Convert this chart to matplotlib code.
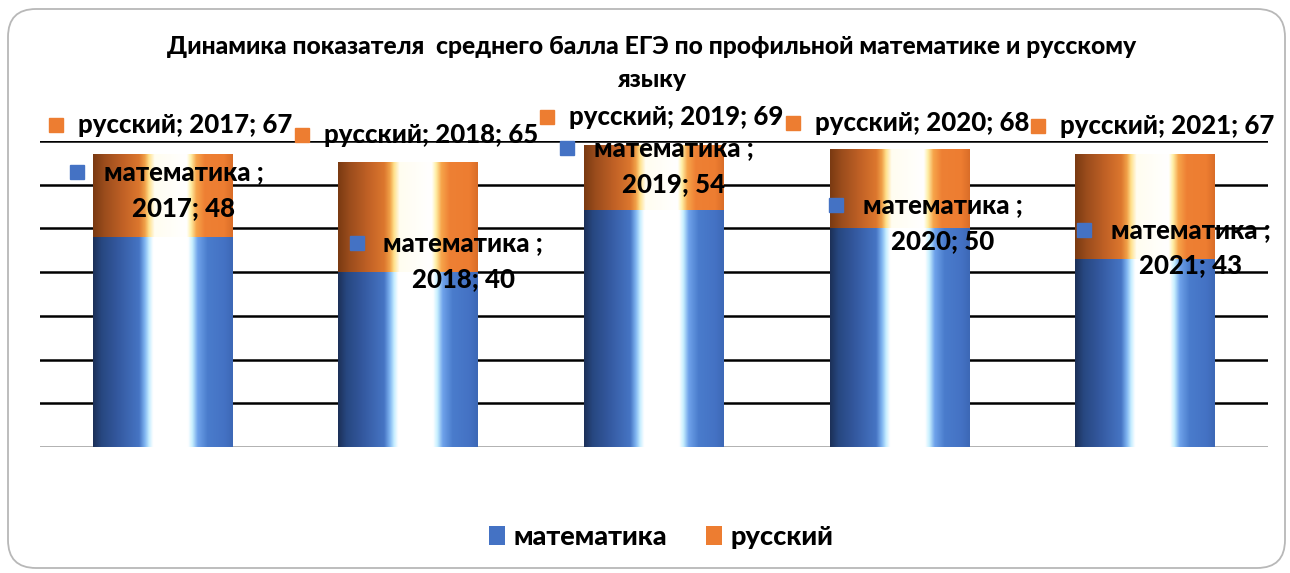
import matplotlib
matplotlib.use("Agg")
import matplotlib.pyplot as plt
import numpy as np
from matplotlib.colors import LinearSegmentedColormap
from matplotlib.patches import FancyBboxPatch, Patch

# ---- data ----
years = ["2017", "2018", "2019", "2020", "2021"]
math_scores = [48, 40, 54, 50, 43]
russian_scores = [67, 65, 69, 68, 67]
series_names = ["математика", "русский"]
title = "Динамика показателя  среднего балла ЕГЭ по профильной математике и русскому\nязыку"

# ---- layout (label placement) ----
rus_label_y = [73.7, 71.4, 75.5, 74.1, 73.5]
math_label_y = [62.9, 46.7, 68.4, 55.4, 49.7]
math_label_dx = [0.085, 0.224, 0.08, 0.175, 0.185]

FONT = "Lato"
WEIGHT = 900
plt.rcParams['font.family'] = [FONT, 'DejaVu Sans']

W, H = 1290, 573
fig = plt.figure(figsize=(W / 100, H / 100), dpi=100)
fig.patch.set_facecolor("white")

# background axes in pixel units for the rounded border
bg = fig.add_axes([0, 0, 1, 1], zorder=-5)
bg.set_xlim(0, W)
bg.set_ylim(H, 0)
bg.axis("off")
bg.add_patch(FancyBboxPatch((8, 9), 1277, 559,
                            boxstyle="round,pad=0,rounding_size=28",
                            facecolor="white", edgecolor="#b8b8b8", linewidth=1.3))

ax = fig.add_axes([40 / W, 1 - 447 / H, 1228 / W, 306 / H])
ax.set_facecolor("none")
for s in ax.spines.values():
    s.set_visible(False)
ax.set_xticks([])
ax.set_yticks([])

# gridlines
for v in range(10, 71, 10):
    ax.axhline(v, color="black", linewidth=1.8, zorder=1)
ax.axhline(0, color="#9a9a9a", linewidth=1.8, zorder=1)

blue_cmap = LinearSegmentedColormap.from_list("blue", [
    (0.0, "#1c3058"), (0.06, "#274780"), (0.18, "#3459a0"), (0.33, "#4675c4"),
    (0.37, "#7fb4f0"), (0.40, "#c4ecff"), (0.43, "#ffffff"), (0.68, "#ffffff"),
    (0.71, "#c8f0ff"), (0.75, "#6ea2ea"), (0.82, "#4a7ccc"), (0.94, "#4472c4"),
    (1.0, "#3d68b6")])
orange_cmap = LinearSegmentedColormap.from_list("orange", [
    (0.0, "#7a3a12"), (0.08, "#9a4c1c"), (0.22, "#c26226"), (0.33, "#dc772e"),
    (0.37, "#f0a048"), (0.40, "#ffe08a"), (0.44, "#fffdf0"), (0.67, "#ffffff"),
    (0.70, "#fff0a8"), (0.74, "#f6a44a"), (0.80, "#ee8034"), (0.94, "#ed7d31"),
    (1.0, "#da6d28")])

grad = np.linspace(0, 1, 256).reshape(1, -1)
bw = 0.57
for i in range(len(years)):
    x0, x1 = i - bw / 2, i + bw / 2
    ax.imshow(grad, cmap=orange_cmap, extent=[x0, x1, 0, russian_scores[i]],
              aspect="auto", zorder=2, interpolation="bilinear")
    ax.imshow(grad, cmap=blue_cmap, extent=[x0, x1, 0, math_scores[i]],
              aspect="auto", zorder=3, interpolation="bilinear")
ax.set_xlim(-0.5, len(years) - 0.5)
ax.set_ylim(0, 70)

BLUE = "#4472c4"
ORANGE = "#ed7d31"
fs = 18.5
for i, yr in enumerate(years):
    # russian label
    ax.plot(i - 0.435, rus_label_y[i], marker="s", markersize=10, color=ORANGE,
            clip_on=False, zorder=5, linestyle="none")
    ax.text(i - 0.345, rus_label_y[i], f"{series_names[1]}; {yr}; {russian_scores[i]}",
            ha="left", va="center", fontsize=fs, fontweight=WEIGHT, color="black",
            clip_on=False, zorder=6)
    # math label
    cx = i + math_label_dx[i]
    ax.plot(cx - 0.435, math_label_y[i], marker="s", markersize=10, color=BLUE,
            clip_on=False, zorder=5, linestyle="none")
    ax.text(cx, math_label_y[i], f"{series_names[0]} ;",
            ha="center", va="center", fontsize=fs, fontweight=WEIGHT, color="black",
            zorder=6)
    ax.text(cx, math_label_y[i] - 8.2, f"{yr}; {math_scores[i]}",
            ha="center", va="center", fontsize=fs, fontweight=WEIGHT, color="black",
            zorder=6)

fig.text(652 / W, 1 - 63 / H, title, ha="center", va="center", fontsize=17.8,
         fontweight=WEIGHT, linespacing=1.55)

handles = [Patch(facecolor=BLUE, edgecolor="none"), Patch(facecolor=ORANGE, edgecolor="none")]
fig.legend(handles, series_names, loc="center", bbox_to_anchor=(661 / W, 1 - 537 / H),
           ncol=2, frameon=False, handlelength=0.6, handleheight=0.75,
           handletextpad=0.3, columnspacing=1.45,
           prop={"family": FONT, "weight": WEIGHT, "size": 19.5})

fig.savefig("out.png", dpi=100, facecolor="white")
